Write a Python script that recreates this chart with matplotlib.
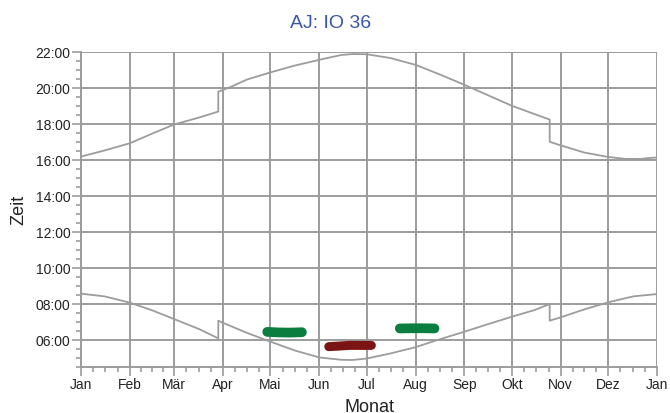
import numpy as np
import matplotlib
matplotlib.use("Agg")
import matplotlib.pyplot as plt
from matplotlib.ticker import FixedLocator, FuncFormatter

plt.rcParams['font.family'] = ['Liberation Sans', 'DejaVu Sans']

# Monatsanfang (Tag im Jahr) und Beschriftung
month_days = [0, 31, 59, 90, 120, 151, 181, 212, 243, 273, 304, 334, 365]
month_labels = ["Jan", "Feb", "Mär", "Apr", "Mai", "Jun", "Jul", "Aug",
                "Sep", "Okt", "Nov", "Dez", "Jan"]

# Sonnenuntergang (Tag, Stunde)
sunset_day = [0, 15, 31, 45, 59, 75, 87, 87, 90, 95, 105, 120, 135, 151, 165,
              172, 181, 196, 212, 227, 243, 258, 273, 287, 297, 297, 304, 319,
              334, 345, 355, 360, 365]
sunset_h = [16.18, 16.52, 16.92, 17.45, 17.96, 18.35, 18.68, 19.78, 19.88,
            20.05, 20.45, 20.85, 21.22, 21.55, 21.82, 21.87, 21.86, 21.65,
            21.27, 20.75, 20.16, 19.58, 19.0, 18.55, 18.23, 17.0, 16.8, 16.4,
            16.16, 16.05, 16.05, 16.1, 16.13]

# Sonnenaufgang (Tag, Stunde)
sunrise_day = [0, 15, 31, 45, 59, 75, 87, 87, 90, 105, 120, 135, 151, 165, 172,
               181, 196, 212, 227, 243, 258, 273, 287, 297, 297, 304, 319, 334,
               350, 365]
sunrise_h = [8.57, 8.42, 8.07, 7.65, 7.16, 6.6, 6.09, 7.07, 6.95, 6.4, 5.91,
             5.43, 5.03, 4.9, 4.89, 4.97, 5.25, 5.6, 6.03, 6.46, 6.88, 7.29,
             7.65, 7.99, 7.07, 7.26, 7.7, 8.09, 8.42, 8.55]

# Beobachtungen
obs1_day = [118, 125, 132, 140]
obs1_h = [6.45, 6.42, 6.41, 6.43]
obs2_day = [157, 163, 170, 184]
obs2_h = [5.63, 5.66, 5.70, 5.70]
obs3_day = [202, 210, 217, 224]
obs3_h = [6.64, 6.65, 6.65, 6.64]

grey = "#9c9c9c"

fig = plt.figure(figsize=(6.7, 4.14), dpi=100)
ax = fig.add_axes([0.1209, 0.1111, 0.8597, 0.7616])

ax.plot(sunset_day, sunset_h, color=grey, lw=1.3, zorder=3)
ax.plot(sunrise_day, sunrise_h, color=grey, lw=1.3, zorder=3)

ax.plot(obs1_day, obs1_h, color="#0b7d3e", lw=7, solid_capstyle="round", zorder=4)
ax.plot(obs2_day, obs2_h, color="#7b1515", lw=6.5, solid_capstyle="round", zorder=4)
ax.plot(obs3_day, obs3_h, color="#0b7d3e", lw=7, solid_capstyle="round", zorder=4)

ax.set_xlim(0, 365)
ax.set_ylim(4.5, 22)

ax.xaxis.set_major_locator(FixedLocator(month_days))
ax.set_xticklabels(month_labels)
minor_x = []
for i in range(12):
    a, b = month_days[i], month_days[i + 1]
    for k in range(1, 4):
        minor_x.append(a + (b - a) * k / 4)
ax.xaxis.set_minor_locator(FixedLocator(minor_x))

ax.yaxis.set_major_locator(FixedLocator(np.arange(6, 23, 2)))
ax.yaxis.set_minor_locator(FixedLocator(np.arange(4.5, 22.01, 0.5)))
ax.yaxis.set_major_formatter(FuncFormatter(lambda v, p: "%02d:00" % int(round(v))))

ax.grid(True, which="major", color=grey, lw=1.4, zorder=1)
for s in ["top", "right"]:
    ax.spines[s].set_visible(False)
for s in ["left", "bottom"]:
    ax.spines[s].set_color(grey)
    ax.spines[s].set_linewidth(1.4)

ax.tick_params(which="major", length=6.5, width=1.2, color=grey, pad=1,
               labelsize=10, labelcolor="#222222")
ax.tick_params(which="minor", length=3.5, width=1.2, color=grey)

ax.set_ylabel("Zeit", fontsize=13, color="#222222", labelpad=6)
ax.set_xlabel("Monat", fontsize=13, color="#222222", labelpad=5)
fig.text(0.493, 0.943, "AJ: IO 36", ha="center", va="center",
         fontsize=14, color="#3a56a6")

fig.savefig("out.png", dpi=100)
